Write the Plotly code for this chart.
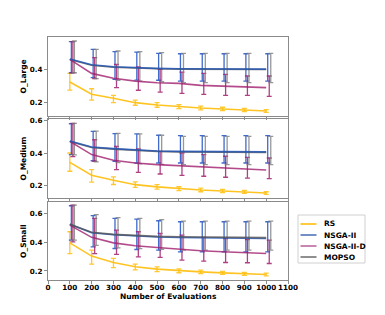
import plotly.graph_objects as go
from plotly.subplots import make_subplots

evaluations = [100, 200, 300, 400, 500, 600, 700, 800, 900, 1000]
algorithms = ["RS", "NSGA-II", "NSGA-II-D", "MOPSO"]
panels = ["O_Large", "O_Medium", "O_Small"]

# ---- O_Large ----
large_RS_mean = [0.322, 0.247, 0.223, 0.196, 0.182, 0.171, 0.163, 0.157, 0.151, 0.145]
large_RS_hi = [0.375, 0.281, 0.241, 0.212, 0.196, 0.184, 0.175, 0.168, 0.161, 0.154]
large_RS_lo = [0.273, 0.212, 0.196, 0.180, 0.168, 0.159, 0.152, 0.147, 0.142, 0.137]
large_NSGA2_mean = [0.463, 0.428, 0.416, 0.410, 0.406, 0.403, 0.402, 0.401, 0.401, 0.401]
large_NSGA2_hi = [0.569, 0.522, 0.508, 0.505, 0.498, 0.495, 0.495, 0.495, 0.495, 0.495]
large_NSGA2_lo = [0.379, 0.349, 0.339, 0.334, 0.333, 0.328, 0.328, 0.328, 0.328, 0.328]
large_NSGA2D_mean = [0.461, 0.375, 0.345, 0.328, 0.318, 0.314, 0.302, 0.298, 0.292, 0.288]
large_NSGA2D_hi = [0.569, 0.471, 0.430, 0.414, 0.400, 0.383, 0.375, 0.369, 0.359, 0.359]
large_NSGA2D_lo = [0.379, 0.343, 0.288, 0.272, 0.261, 0.253, 0.247, 0.241, 0.241, 0.235]
large_MOPSO_mean = [0.460, 0.425, 0.413, 0.407, 0.403, 0.401, 0.400, 0.399, 0.399, 0.399]
large_MOPSO_hi = [0.573, 0.522, 0.512, 0.508, 0.502, 0.498, 0.498, 0.498, 0.498, 0.498]
large_MOPSO_lo = [0.379, 0.343, 0.333, 0.328, 0.324, 0.318, 0.318, 0.318, 0.318, 0.318]

# ---- O_Medium ----
medium_RS_mean = [0.342, 0.262, 0.231, 0.204, 0.190, 0.179, 0.171, 0.165, 0.159, 0.152]
medium_RS_hi = [0.400, 0.297, 0.252, 0.221, 0.204, 0.191, 0.182, 0.175, 0.168, 0.160]
medium_RS_lo = [0.287, 0.220, 0.205, 0.187, 0.176, 0.167, 0.160, 0.155, 0.150, 0.144]
medium_NSGA2_mean = [0.474, 0.437, 0.427, 0.419, 0.412, 0.410, 0.409, 0.408, 0.408, 0.407]
medium_NSGA2_hi = [0.581, 0.534, 0.520, 0.518, 0.510, 0.507, 0.507, 0.507, 0.507, 0.507]
medium_NSGA2_lo = [0.390, 0.352, 0.349, 0.338, 0.338, 0.338, 0.338, 0.338, 0.338, 0.338]
medium_NSGA2D_mean = [0.472, 0.390, 0.355, 0.338, 0.328, 0.321, 0.313, 0.307, 0.301, 0.295]
medium_NSGA2D_hi = [0.584, 0.482, 0.441, 0.425, 0.410, 0.400, 0.390, 0.380, 0.373, 0.369]
medium_NSGA2D_lo = [0.377, 0.349, 0.297, 0.280, 0.270, 0.262, 0.256, 0.250, 0.245, 0.241]
medium_MOPSO_mean = [0.471, 0.434, 0.424, 0.416, 0.410, 0.407, 0.406, 0.405, 0.405, 0.404]
medium_MOPSO_hi = [0.584, 0.536, 0.522, 0.518, 0.510, 0.503, 0.503, 0.503, 0.503, 0.503]
medium_MOPSO_lo = [0.388, 0.345, 0.340, 0.333, 0.330, 0.328, 0.328, 0.328, 0.328, 0.328]

# ---- O_Small ----
small_RS_mean = [0.395, 0.303, 0.259, 0.229, 0.213, 0.201, 0.194, 0.187, 0.180, 0.176]
small_RS_hi = [0.472, 0.344, 0.287, 0.247, 0.228, 0.214, 0.206, 0.198, 0.190, 0.185]
small_RS_lo = [0.321, 0.247, 0.224, 0.208, 0.196, 0.188, 0.182, 0.176, 0.170, 0.166]
small_NSGA2_mean = [0.523, 0.465, 0.451, 0.442, 0.435, 0.432, 0.430, 0.428, 0.426, 0.425]
small_NSGA2_hi = [0.652, 0.583, 0.564, 0.560, 0.548, 0.541, 0.541, 0.541, 0.541, 0.541]
small_NSGA2_lo = [0.414, 0.367, 0.356, 0.349, 0.344, 0.333, 0.333, 0.333, 0.333, 0.333]
small_NSGA2D_mean = [0.518, 0.433, 0.395, 0.375, 0.363, 0.351, 0.340, 0.333, 0.328, 0.321]
small_NSGA2D_hi = [0.657, 0.565, 0.483, 0.472, 0.460, 0.449, 0.433, 0.425, 0.418, 0.414]
small_NSGA2D_lo = [0.402, 0.321, 0.315, 0.298, 0.294, 0.275, 0.268, 0.259, 0.257, 0.252]
small_MOPSO_mean = [0.524, 0.468, 0.454, 0.446, 0.440, 0.437, 0.435, 0.433, 0.432, 0.431]
small_MOPSO_hi = [0.657, 0.590, 0.570, 0.565, 0.556, 0.545, 0.545, 0.545, 0.545, 0.545]
small_MOPSO_lo = [0.414, 0.378, 0.360, 0.355, 0.350, 0.344, 0.344, 0.344, 0.344, 0.344]

x_ticks = [0, 100, 200, 300, 400, 500, 600, 700, 800, 900, 1000, 1100]
y_ticks = [0.2, 0.4, 0.6]

data = {
    "O_Large": [
        (large_RS_mean, large_RS_hi, large_RS_lo),
        (large_NSGA2_mean, large_NSGA2_hi, large_NSGA2_lo),
        (large_NSGA2D_mean, large_NSGA2D_hi, large_NSGA2D_lo),
        (large_MOPSO_mean, large_MOPSO_hi, large_MOPSO_lo),
    ],
    "O_Medium": [
        (medium_RS_mean, medium_RS_hi, medium_RS_lo),
        (medium_NSGA2_mean, medium_NSGA2_hi, medium_NSGA2_lo),
        (medium_NSGA2D_mean, medium_NSGA2D_hi, medium_NSGA2D_lo),
        (medium_MOPSO_mean, medium_MOPSO_hi, medium_MOPSO_lo),
    ],
    "O_Small": [
        (small_RS_mean, small_RS_hi, small_RS_lo),
        (small_NSGA2_mean, small_NSGA2_hi, small_NSGA2_lo),
        (small_NSGA2D_mean, small_NSGA2D_hi, small_NSGA2D_lo),
        (small_MOPSO_mean, small_MOPSO_hi, small_MOPSO_lo),
    ],
}

line_colors = ["rgba(255,190,10,0.9)", "rgba(35,85,180,0.85)", "rgba(160,30,110,0.8)", "rgba(85,85,85,0.8)"]
bar_colors = ["rgba(255,190,10,0.85)", "rgba(30,80,195,0.85)", "rgba(160,30,110,0.85)", "rgba(125,125,125,0.8)"]
legend_colors = ["rgba(255,190,10,1)", "rgba(60,100,180,0.9)", "rgba(180,90,150,0.9)", "rgba(100,100,100,0.9)"]
bar_offsets = [0, 7, 14, 21]
y_ranges = [[0.1144, 0.5976], [0.1214, 0.6105], [0.1376, 0.678]]
# order in which lines are stacked in each panel (last on top)
line_orders = [[3, 0, 2, 1], [3, 0, 2, 1], [0, 1, 2, 3]]

FONT = dict(family="DejaVu Sans", size=7.5, color="black", weight="bold")
TICKFONT = dict(family="DejaVu Sans", size=7.2, color="black", weight="bold")

fig = make_subplots(rows=3, cols=1, shared_xaxes=False, vertical_spacing=0.0)

for r, panel in enumerate(panels, start=1):
    for i in range(len(algorithms)):
        mean, hi, lo = data[panel][i]
        fig.add_trace(go.Scatter(
            x=[v + bar_offsets[i] for v in evaluations], y=mean, mode="markers",
            marker=dict(size=1, opacity=0), showlegend=False, hoverinfo="skip",
            error_y=dict(type="data", symmetric=False,
                         array=[h - m for h, m in zip(hi, mean)],
                         arrayminus=[m - l for m, l in zip(mean, lo)],
                         color=bar_colors[i], thickness=1.3, width=2.5),
        ), row=r, col=1)
    for i in line_orders[r - 1]:
        mean = data[panel][i][0]
        fig.add_trace(go.Scatter(
            x=evaluations, y=mean, mode="lines", name=algorithms[i],
            line=dict(color=line_colors[i], width=1.6), showlegend=False,
        ), row=r, col=1)

W, H = 385, 315
L, R, T, B = 48, 97, 37, 35
pw = W - L - R
ph = H - T - B
def dom(top_px, bot_px):
    return [(H - B - bot_px) / ph, (H - B - top_px) / ph]

def px_x(p):
    return (p - L) / pw

def px_y(p):
    return (H - B - p) / ph

domains = [dom(37, 116), dom(119, 198), dom(202, 280)]

for r in range(1, 4):
    xa = "xaxis" if r == 1 else f"xaxis{r}"
    ya = "yaxis" if r == 1 else f"yaxis{r}"
    fig.layout[xa].update(
        range=[0, 1100], tickvals=x_ticks, showticklabels=(r == 3), tickangle=0,
        ticklabelstandoff=-3,
        showline=True, mirror=True, linecolor="#8a8a8a", linewidth=1,
        ticks="outside", ticklen=3, tickcolor="#8a8a8a", tickwidth=1,
        showgrid=False, zeroline=False, tickfont=TICKFONT,
    )
    fig.layout[ya].update(
        range=y_ranges[r - 1], domain=domains[r - 1], tickvals=y_ticks,
        ticktext=[f"{v:.1f}" for v in y_ticks],
        showline=True, mirror=True, linecolor="#8a8a8a", linewidth=1,
        ticks="outside", ticklen=3, tickcolor="#8a8a8a", tickwidth=1,
        showgrid=False, zeroline=False, tickfont=TICKFONT,
    )

for r, panel in enumerate(panels):
    d = domains[r]
    fig.add_annotation(text=panel, xref="paper", yref="paper",
                       x=px_x(23), y=(d[0] + d[1]) / 2,
                       textangle=-90, showarrow=False, font=FONT,
                       xanchor="center", yanchor="middle")

fig.add_annotation(text="Number of Evaluations", xref="paper", yref="paper",
                   x=0.5, y=px_y(296), showarrow=False, font=FONT,
                   xanchor="center", yanchor="middle")

# manual legend
fig.add_shape(type="rect", xref="paper", yref="paper",
              x0=px_x(298), x1=px_x(365), y0=px_y(263), y1=px_y(215),
              line=dict(color="#d0d0d0", width=1), fillcolor="white", layer="above")
for k, alg in enumerate(algorithms):
    yc = 224 + 11 * k
    fig.add_shape(type="line", xref="paper", yref="paper",
                  x0=px_x(300.5), x1=px_x(316.5), y0=px_y(yc), y1=px_y(yc),
                  line=dict(color=legend_colors[k], width=1.6), layer="above")
    fig.add_annotation(text=alg, xref="paper", yref="paper",
                       x=px_x(321.5), y=px_y(yc), showarrow=False, font=FONT,
                       xanchor="left", yanchor="middle")

fig.update_layout(
    width=W, height=H, margin=dict(l=L, r=R, t=T, b=B),
    paper_bgcolor="white", plot_bgcolor="white", font=FONT,
    showlegend=False,
)

fig.write_html("out.html", config={"displayModeBar": False},
               post_script="document.body.style.margin='0px';")
